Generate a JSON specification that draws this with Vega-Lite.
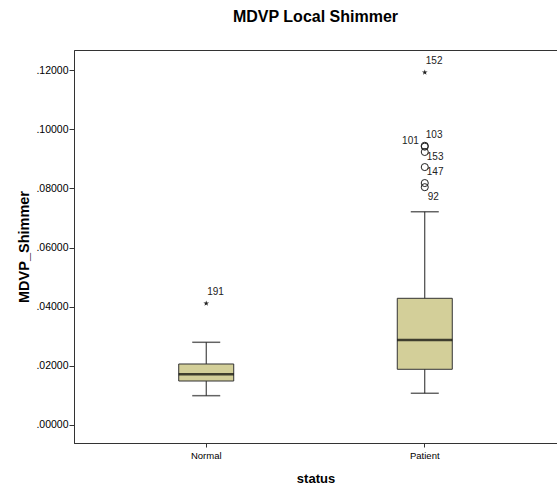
{
  "$schema": "https://vega.github.io/schema/vega-lite/v6.json",
  "width": 483,
  "height": 393,
  "autosize": "none",
  "padding": {"left": 74, "top": 50, "right": 0, "bottom": 43},
  "background": "white",
  "title": {"text": "MDVP  Local Shimmer", "font": "Liberation Sans", "fontSize": 16, "fontWeight": "bold", "color": "black", "anchor": "middle", "offset": 25},
  "config": {
    "view": {"stroke": "#333", "strokeWidth": 1},
    "axisY": {"labelExpr": "substring(format(datum.value, '.5f'), 1)", "grid": false, "labelFont": "Liberation Sans", "labelFontSize": 10.5, "labelColor": "black", "labelPadding": 1, "tickSize": 5, "tickColor": "#333", "domainColor": "#333", "titleFont": "Liberation Sans", "titleFontSize": 14.5, "titleFontWeight": "bold", "titleColor": "black", "titlePadding": 4},
    "axisX": {"labelAngle": 0, "labelFont": "Liberation Sans", "labelFontSize": 9.5, "labelColor": "black", "labelPadding": 3, "tickSize": 4, "tickColor": "#333", "domainColor": "#333", "titleFont": "Liberation Sans", "titleFontSize": 13, "titleFontWeight": "bold", "titleColor": "black", "titlePadding": 13}
  },
  "datasets": {
    "stats": [
      {"status": "Normal", "lower": 0.00991, "q1": 0.01487, "median": 0.01714, "q3": 0.02062, "upper": 0.02796},
      {"status": "Patient", "lower": 0.01072, "q1": 0.01883, "median": 0.02874, "q3": 0.04283, "upper": 0.0721}
    ],
    "outliers": [
      {"status": "Normal", "id": "191", "value": 0.0411, "kind": "extreme"},
      {"status": "Patient", "id": "152", "value": 0.1192, "kind": "extreme"},
      {"status": "Patient", "id": "103", "value": 0.0944, "kind": "mild"},
      {"status": "Patient", "id": "101", "value": 0.0941, "kind": "mild"},
      {"status": "Patient", "id": "153", "value": 0.0923, "kind": "mild"},
      {"status": "Patient", "id": "147", "value": 0.0872, "kind": "mild"},
      {"status": "Patient", "id": "", "value": 0.0818, "kind": "mild"},
      {"status": "Patient", "id": "92", "value": 0.0804, "kind": "mild"}
    ]
  },
  "layer": [
    {
      "data": {"name": "stats"},
      "mark": {"type": "rule", "color": "#222", "strokeWidth": 1},
      "encoding": {
        "x": {"field": "status", "type": "nominal", "title": "status", "scale": {"domain": ["Normal", "Patient"], "paddingInner": 0, "paddingOuter": 0.105}},
        "y": {"field": "lower", "type": "quantitative", "title": "MDVP_Shimmer", "scale": {"domain": [-0.00609, 0.12678], "nice": false, "zero": false}, "axis": {"values": [0, 0.02, 0.04, 0.06, 0.08, 0.1, 0.12]}},
        "y2": {"field": "upper"}
      }
    },
    {
      "data": {"name": "stats"},
      "mark": {"type": "bar", "size": 55, "fill": "#D3CF99", "stroke": "#333", "strokeWidth": 1},
      "encoding": {
        "x": {"field": "status", "type": "nominal", "title": "status"},
        "y": {"field": "q1", "type": "quantitative", "title": "MDVP_Shimmer"},
        "y2": {"field": "q3"}
      }
    },
    {
      "data": {"name": "stats"},
      "mark": {"type": "tick", "size": 55, "thickness": 2.5, "color": "#000"},
      "encoding": {
        "x": {"field": "status", "type": "nominal", "title": "status"},
        "y": {"field": "median", "type": "quantitative", "title": "MDVP_Shimmer"}
      }
    },
    {
      "data": {"name": "stats"},
      "mark": {"type": "tick", "size": 28, "thickness": 1.5, "color": "#222"},
      "encoding": {
        "x": {"field": "status", "type": "nominal", "title": "status"},
        "y": {"field": "lower", "type": "quantitative", "title": "MDVP_Shimmer"}
      }
    },
    {
      "data": {"name": "stats"},
      "mark": {"type": "tick", "size": 28, "thickness": 1.5, "color": "#222"},
      "encoding": {
        "x": {"field": "status", "type": "nominal", "title": "status"},
        "y": {"field": "upper", "type": "quantitative", "title": "MDVP_Shimmer"}
      }
    },
    {
      "data": {"name": "outliers"},
      "transform": [{"filter": "datum.kind == 'mild'"}],
      "mark": {"type": "point", "shape": "circle", "size": 50, "filled": false, "stroke": "#222", "strokeWidth": 1, "opacity": 1},
      "encoding": {
        "x": {"field": "status", "type": "nominal", "title": "status"},
        "y": {"field": "value", "type": "quantitative", "title": "MDVP_Shimmer"}
      }
    },
    {
      "data": {"name": "outliers"},
      "transform": [{"filter": "datum.kind == 'extreme'"}],
      "mark": {"type": "point", "shape": "M0,-1L0.223,-0.307L0.951,-0.309L0.361,0.117L0.588,0.809L0,0.38L-0.588,0.809L-0.361,0.117L-0.951,-0.309L-0.223,-0.307Z", "size": 36, "filled": true, "color": "#222", "opacity": 1},
      "encoding": {
        "x": {"field": "status", "type": "nominal", "title": "status"},
        "y": {"field": "value", "type": "quantitative", "title": "MDVP_Shimmer"}
      }
    },
    {
      "data": {"name": "outliers"},
      "transform": [{"filter": "datum.id == '152' || datum.id == '191' || datum.id == '103'"}],
      "mark": {"type": "text", "align": "left", "baseline": "middle", "dx": 1, "dy": -11, "font": "Liberation Sans", "fontSize": 10, "color": "#222"},
      "encoding": {
        "x": {"field": "status", "type": "nominal", "title": "status"},
        "y": {"field": "value", "type": "quantitative", "title": "MDVP_Shimmer"},
        "text": {"field": "id"}
      }
    },
    {
      "data": {"name": "outliers"},
      "transform": [{"filter": "datum.id == '101'"}],
      "mark": {"type": "text", "align": "right", "baseline": "middle", "dx": -6, "dy": -5.5, "font": "Liberation Sans", "fontSize": 10, "color": "#222"},
      "encoding": {
        "x": {"field": "status", "type": "nominal", "title": "status"},
        "y": {"field": "value", "type": "quantitative", "title": "MDVP_Shimmer"},
        "text": {"field": "id"}
      }
    },
    {
      "data": {"name": "outliers"},
      "transform": [{"filter": "datum.id == '153' || datum.id == '147'"}],
      "mark": {"type": "text", "align": "left", "baseline": "middle", "dx": 2, "dy": 5, "font": "Liberation Sans", "fontSize": 10, "color": "#222"},
      "encoding": {
        "x": {"field": "status", "type": "nominal", "title": "status"},
        "y": {"field": "value", "type": "quantitative", "title": "MDVP_Shimmer"},
        "text": {"field": "id"}
      }
    },
    {
      "data": {"name": "outliers"},
      "transform": [{"filter": "datum.id == '92'"}],
      "mark": {"type": "text", "align": "left", "baseline": "middle", "dx": 3, "dy": 10, "font": "Liberation Sans", "fontSize": 10, "color": "#222"},
      "encoding": {
        "x": {"field": "status", "type": "nominal", "title": "status"},
        "y": {"field": "value", "type": "quantitative", "title": "MDVP_Shimmer"},
        "text": {"field": "id"}
      }
    }
  ]
}
